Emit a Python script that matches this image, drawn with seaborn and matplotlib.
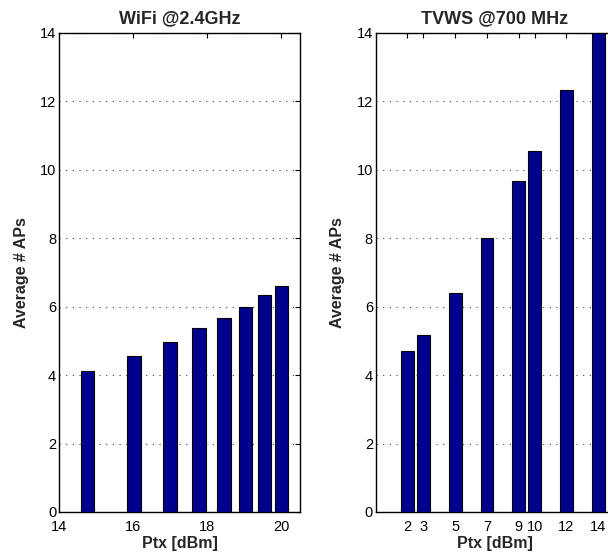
import matplotlib
matplotlib.use("Agg")
import matplotlib.pyplot as plt
import seaborn as sns
import pandas as pd

# Average number of access points heard vs. transmit power
wifi_ptx = [14.77, 16.02, 16.99, 17.78, 18.45, 19.03, 19.54, 20.00]
wifi_aps = [4.13, 4.57, 4.97, 5.37, 5.67, 5.98, 6.34, 6.61]

tvws_ptx = [2, 3, 5, 7, 9, 10, 12, 14]
tvws_aps = [4.71, 5.18, 6.39, 8.01, 9.66, 10.54, 12.34, 14.0]

wifi_xticks = [14, 16, 18, 20]
tvws_xticks = [2, 3, 5, 7, 9, 10, 12, 14]
yticks = [0, 2, 4, 6, 8, 10, 12, 14]

sns.set_style("white")
plt.rcParams["font.family"] = ["Liberation Sans", "DejaVu Sans"]
plt.rcParams["xtick.direction"] = "in"
plt.rcParams["ytick.direction"] = "in"

BAR = "#00008F"

fig = plt.figure(figsize=(6.08, 5.57), dpi=100)
ax1 = fig.add_axes([0.0970, 0.0808, 0.3964, 0.8600])
ax2 = fig.add_axes([0.6179, 0.0808, 0.3923, 0.8600])

panels = [
    (ax1, wifi_ptx, wifi_aps, "WiFi @2.4GHz", (14, 20.5), wifi_xticks),
    (ax2, tvws_ptx, tvws_aps, "TVWS @700 MHz", (0, 15), tvws_xticks),
]

for ax, xs, ys, title, xlim, xt in panels:
    df = pd.DataFrame({"ptx": xs, "aps": ys})
    sns.barplot(data=df, x="ptx", y="aps", native_scale=True, color=BAR,
                saturation=1, errorbar=None, edgecolor="black",
                linewidth=0.8, ax=ax, zorder=3)
    ax.set_xlim(*xlim)
    ax.set_ylim(0, 14)
    ax.set_xticks(xt)
    ax.set_xticklabels([str(v) for v in xt])
    ax.set_yticks(yticks)
    ax.tick_params(axis="both", which="both", top=True, right=True,
                   length=3.5, width=0.8, labelsize=10.5,
                   color="black", labelcolor="black")
    ax.tick_params(axis="x", pad=6)
    ax.tick_params(axis="y", pad=2)
    ax.set_axisbelow(True)
    ax.yaxis.grid(True, linestyle=(0, (1, 5)), color="#404040", linewidth=0.8)
    ax.xaxis.grid(False)
    for s in ax.spines.values():
        s.set_color("black")
        s.set_linewidth(1.0)
        s.set_visible(True)
    ax.set_title(title, fontsize=13, fontweight="bold", pad=7)
    ax.set_xlabel("Ptx [dBm]", fontsize=11.5, fontweight="bold", labelpad=1)
    ax.set_ylabel("Average # APs", fontsize=11.5, fontweight="bold", labelpad=8)

fig.savefig("out.png", dpi=100)
